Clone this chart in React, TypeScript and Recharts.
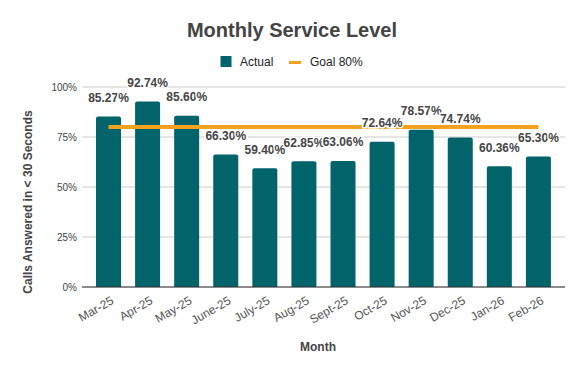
import React from "react"
import { ComposedChart, Bar, Line, XAxis, YAxis, CartesianGrid, LabelList } from "recharts"

const FONT = "'Liberation Sans', Arial, sans-serif"
const TEAL = "#00646a"
const ORANGE = "#f4a11e"

const months = ["Mar-25", "Apr-25", "May-25", "June-25", "July-25", "Aug-25", "Sept-25", "Oct-25", "Nov-25", "Dec-25", "Jan-26", "Feb-26"]
const actual = [85.27, 92.74, 85.6, 66.3, 59.4, 62.85, 63.06, 72.64, 78.57, 74.74, 60.36, 65.3]
const goal = [80, 80, 80, 80, 80, 80, 80, 80, 80, 80, 80, 80]
const yTicks = [0, 25, 50, 75, 100]

const chartData = months.map((month, i) => ({ month, actual: actual[i], goal: goal[i] }))

// rotated month labels under the axis
const MonthTick = (props: any) => {
  const { x, y, payload } = props
  const tx = x + 6
  const ty = y + 16
  return (
    <text
      x={tx}
      y={ty}
      transform={`rotate(-30 ${tx} ${ty})`}
      textAnchor="end"
      fontSize={12}
      fill="#555"
      fontFamily={FONT}
    >
      {payload.value}
    </text>
  )
}

// value labels with a white halo so they sit on top of the goal line
const ValueLabel = (props: any) => {
  const x = props.x ?? props.viewBox?.x
  const y = props.y ?? props.viewBox?.y
  if (x == null || y == null) return null
  return (
    <text
      x={x}
      y={y - 14.5}
      textAnchor="middle"
      fontSize={12}
      fontWeight="bold"
      fill="#444"
      stroke="#fff"
      strokeWidth={3}
      paintOrder="stroke"
      fontFamily={FONT}
    >
      {Number(props.value).toFixed(2)}%
    </text>
  )
}

export default function App() {
  return (
    <div style={{ position: "absolute", left: 0, top: 0, width: 583, height: 371, background: "#fff" }}>
      <ComposedChart
        width={583}
        height={371}
        data={chartData}
        margin={{ top: 87, right: 18, bottom: 0, left: 0 }}
      >
        <CartesianGrid vertical={false} stroke="#cccccc" />
        <XAxis
          dataKey="month"
          height={84}
          padding={{ left: 7, right: 7 }}
          tickLine={false}
          tickSize={0}
          tickMargin={0}
          axisLine={{ stroke: "#333" }}
          interval={0}
          tick={<MonthTick />}
          label={{
            content: () => (
              <text x={318} y={351} textAnchor="middle" fontSize={12} fontWeight="bold" fill="#444" fontFamily={FONT}>
                Month
              </text>
            ),
          }}
        />
        <YAxis
          width={82}
          domain={[0, 100]}
          ticks={yTicks}
          tickFormatter={(v) => `${v}%`}
          tickLine={false}
          axisLine={false}
          tickSize={0}
          tickMargin={5}
          tick={{ fontSize: 10, fill: "#444", fontFamily: FONT }}
          label={{
            content: () => (
              <text
                x={32}
                y={202}
                transform="rotate(-90 32 202)"
                textAnchor="middle"
                fontSize={12}
                fontWeight="bold"
                fill="#444"
                fontFamily={FONT}
              >
                {"Calls Answered in < 30 Seconds"}
              </text>
            ),
          }}
        />
        <Bar dataKey="actual" fill={TEAL} barSize={25} radius={[2, 2, 0, 0]} isAnimationActive={false} />
        <Line dataKey="goal" stroke={ORANGE} strokeWidth={4} dot={false} activeDot={false} isAnimationActive={false} />
        <Line dataKey="actual" stroke="none" dot={false} activeDot={false} isAnimationActive={false}>
          <LabelList dataKey="actual" content={<ValueLabel />} />
        </Line>
      </ComposedChart>
      <svg width={583} height={90} style={{ position: "absolute", left: 0, top: 0, pointerEvents: "none" }}>
        <text x={292} y={37} textAnchor="middle" fontSize={20} fontWeight="bold" fill="#444" fontFamily={FONT}>
          Monthly Service Level
        </text>
        <rect x={220.5} y={56} width={11} height={11} fill={TEAL} />
        <text x={240} y={66} fontSize={12} fill="#222" fontFamily={FONT}>
          Actual
        </text>
        <rect x={289} y={61} width={12} height={3} fill={ORANGE} />
        <text x={310} y={66} fontSize={12} fill="#222" fontFamily={FONT}>
          Goal 80%
        </text>
      </svg>
    </div>
  )
}
